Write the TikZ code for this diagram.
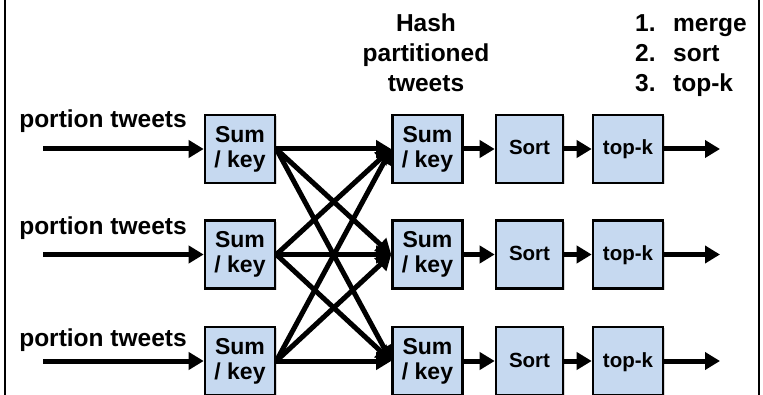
\documentclass[tikz,border=0pt]{standalone}
\usepackage{fontspec}
\setmainfont{Liberation Sans}
\usetikzlibrary{arrows.meta,shadows}
\definecolor{boxblue}{RGB}{198,217,240}
\begin{document}
\begin{tikzpicture}[x=1pt,y=-1pt,
  box/.style={draw=black, line width=2.6pt, fill=boxblue, inner sep=0pt, align=center,
    minimum height=68pt,
    drop shadow={shadow xshift=1.5pt, shadow yshift=-1.5pt, opacity=0.3}},
  sumbox/.style={box, minimum width=70pt, font=\fontsize{23}{25}\selectfont\bfseries},
  sortbox/.style={box, minimum width=67pt, text height=15pt, text depth=3pt,
    font=\fontsize{20.5}{24}\selectfont\bfseries},
  topbox/.style={box, minimum width=70pt, text height=15pt, text depth=3pt,
    font=\fontsize{20.5}{24}\selectfont\bfseries},
  lbl/.style={inner sep=0pt, font=\fontsize{24.5}{30}\selectfont\bfseries},
  arr/.style={line width=5pt, -{Triangle[length=15pt,width=17pt]}},
  frame/.style={line width=2pt}]
\useasboundingbox (0,0) rectangle (763,395);
\fill[white] (0,0) rectangle (763,395);
\draw[frame] (5,0) -- (5,395);
\draw[frame] (759,0) -- (759,395);

% headers
\node[lbl, anchor=north, align=center] (hdr) at (426,14) {Hash\\partitioned\\tweets};
\node[lbl, anchor=north west, align=left] (steps) at (635,14)
  {\makebox[38pt][l]{1.}merge\\\makebox[38pt][l]{2.}sort\\\makebox[38pt][l]{3.}top-k};

% rows
\foreach \i/\y/\ly in {1/149/128, 2/254.5/235, 3/361/346} {
  \node[lbl, anchor=base] (p\i) at (103,\ly) {portion tweets};
  \coordinate (in\i) at (43,\y);
  \node[sumbox] (L\i) at (240,\y) {Sum\\/ key};
  \node[sumbox] (M\i) at (427.5,\y) {Sum\\/ key};
  \node[sortbox] (S\i) at (529.5,\y) {Sort};
  \node[topbox] (T\i) at (628,\y) {top-k};
  \coordinate (out\i) at (720,\y);
}

\foreach \i in {1,2,3} {
  \draw[arr] (in\i) -- (L\i.west);
  \draw[arr] (M\i.east) -- (S\i.west);
  \draw[arr] (S\i.east) -- (T\i.west);
  \draw[arr] (T\i.east) -- (out\i);
  \foreach \j in {1,2,3} {
    \draw[arr] (L\i.east) -- (M\j.west);
  }
}
\end{tikzpicture}
\end{document}
